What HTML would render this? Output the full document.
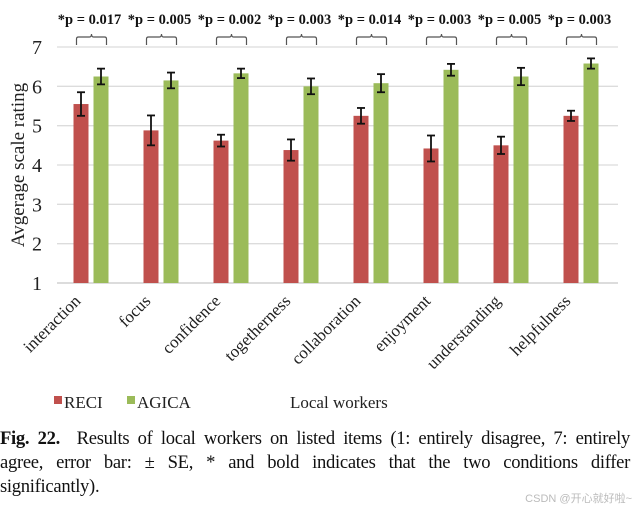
<!DOCTYPE html>
<html><head><meta charset="utf-8"><style>
body{margin:0;background:#fff;width:638px;height:510px;overflow:hidden;position:relative;font-family:"Liberation Serif",serif}
#cap{position:absolute;left:0;top:427px;width:630px;font-size:18.6px;line-height:24px;color:#111;letter-spacing:-0.3px}
#cap div{text-align:justify;text-align-last:justify;white-space:nowrap}
#cap div.last{text-align-last:left}
#wm{position:absolute;right:6px;top:490px;font-family:"Liberation Sans","Noto Sans CJK SC",sans-serif;font-size:11px;color:#bbb}
</style></head><body>
<svg id="chart" width="638" height="420" style="position:absolute;left:0;top:0" font-family="Liberation Serif, serif"></svg>
<div id="cap"><div><b>Fig. 22.</b>&nbsp; Results of local workers on listed items (1: entirely disagree, 7: entirely</div><div>agree, error bar: ± SE, * and bold indicates that the two conditions differ</div><div class="last">significantly).</div></div>
<div id="wm">CSDN @开心就好啦~</div>
<script>
const categories=["interaction","focus","confidence","togetherness","collaboration","enjoyment","understanding","helpfulness"];
const reciValues=[5.55,4.88,4.62,4.38,5.25,4.42,4.5,5.25];
const agicaValues=[6.25,6.15,6.33,6.0,6.08,6.42,6.25,6.58];
const reciErr=[0.3,0.38,0.15,0.27,0.2,0.33,0.22,0.13];
const agicaErr=[0.2,0.2,0.12,0.2,0.23,0.15,0.22,0.13];
const pLabels=["*p = 0.017","*p = 0.005","*p = 0.002","*p = 0.003","*p = 0.014","*p = 0.003","*p = 0.005","*p = 0.003"];
const yTicks=[1,2,3,4,5,6,7];
const svg=document.getElementById('chart');
const NS='http://www.w3.org/2000/svg';
const x0=57,x1=618,yTop=47,yBot=283,step=70;
function y(v){return yBot-(v-1)/6*(yBot-yTop);}
function cx(i){return 91.5+i*step;}
function mk(t,a,p){const e=document.createElementNS(NS,t);for(const k in a)e.setAttribute(k,a[k]);(p||svg).appendChild(e);return e;}
yTicks.forEach(t=>{
 const g=mk('line',{x1:x0,x2:x1,y1:y(t),y2:y(t),stroke:t===1?'#c8c8c8':'#dcdcdc','stroke-width':1.3});
 
 
 const l=mk('text',{x:42,y:y(t)+7,'font-size':20,'text-anchor':'end',fill:'#222'});l.textContent=t;
 
 
});
const yt=mk('text',{x:0,y:0,transform:'translate(24,165) rotate(-90)','font-size':19,'text-anchor':'middle',fill:'#222'});yt.textContent='Avgerage scale rating';


function errbar(xc,v,e,n){
 const g=mk('g',{stroke:'#111','stroke-width':1.8});
 
 
 mk('line',{x1:xc,x2:xc,y1:y(v+e),y2:y(v-e)},g);
 mk('line',{x1:xc-4,x2:xc+4,y1:y(v+e),y2:y(v+e)},g);
 mk('line',{x1:xc-4,x2:xc+4,y1:y(v-e),y2:y(v-e)},g);
}
categories.forEach((c,i)=>{
 const c0=cx(i);
 const r=mk('rect',{x:c0-18,y:y(reciValues[i]),width:15,height:yBot-y(reciValues[i]),fill:'#c0504d'});
 
 
 const g=mk('rect',{x:c0+2,y:y(agicaValues[i]),width:15,height:yBot-y(agicaValues[i]),fill:'#9bbb59'});
 
 
 errbar(c0-10.5,reciValues[i],reciErr[i],'error-reci-'+c);
 errbar(c0+9.5,agicaValues[i],agicaErr[i],'error-agica-'+c);
 const b=mk('path',{d:`M${c0-15},45 v-6 q0,-2 2,-2 h11 q2,0 2,-3 q0,3 2,3 h11 q2,0 2,2 v6`,fill:'none',stroke:'#555','stroke-width':1.2});
 
 
 const p=mk('text',{x:c0-2,y:24,'font-size':14.5,'font-weight':'bold','text-anchor':'middle',fill:'#111'});p.textContent=pLabels[i];
 
 
 const l=mk('text',{x:0,y:0,transform:`translate(${c0-10},302) rotate(-45)`,'font-size':17,'text-anchor':'end',fill:'#222'});l.textContent=c;
 
 
});
[['RECI','#c0504d',54],['AGICA','#9bbb59',127]].forEach(([n,col,lx])=>{
 const s=mk('rect',{x:lx,y:396,width:8,height:8,fill:col});
 
 
 const t=mk('text',{x:lx+10,y:408,'font-size':17,fill:'#222'});t.textContent=n;
 
 
});
const lw=mk('text',{x:290,y:408,'font-size':17,fill:'#222'});lw.textContent='Local workers';


</script>
</body></html>
